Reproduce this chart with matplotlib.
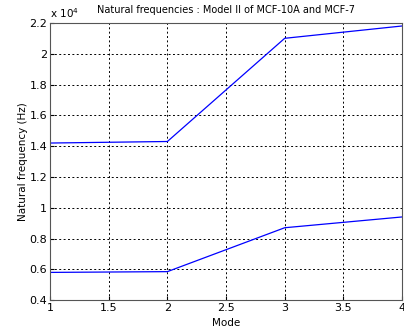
import numpy as np
import matplotlib
matplotlib.use("Agg")
import matplotlib.pyplot as plt

# mode numbers and natural frequencies (Hz)
modes = [1, 2, 3, 4]
freq_upper = [14200, 14300, 21000, 21800]
freq_lower = [5800, 5850, 8700, 9400]

fig = plt.figure(figsize=(4.04, 3.32), dpi=100)
ax = fig.add_axes([0.124, 0.096, 0.871, 0.835])

scale = 1e4
ax.plot(modes, np.array(freq_upper) / scale, color='#0000ff', lw=0.9)
ax.plot(modes, np.array(freq_lower) / scale, color='#0000ff', lw=0.9)

ax.set_xlim(1, 4)
ax.set_ylim(0.4, 2.2)
ax.set_xticks(np.arange(1, 4.01, 0.5))
ax.set_xticklabels(['1', '1.5', '2', '2.5', '3', '3.5', '4'])
ax.set_yticks(np.arange(0.4, 2.21, 0.2))
ax.set_yticklabels(['0.4', '0.6', '0.8', '1', '1.2', '1.4', '1.6', '1.8', '2', '2.2'])
ax.grid(True, color='black', linestyle=(0, (2, 2.5)), linewidth=0.7)
ax.tick_params(labelsize=8, direction='in', length=3, pad=2)
for s in ax.spines.values():
    s.set_color('#555555')

ax.set_xlabel('Mode', fontsize=7.5, labelpad=4)
ax.set_ylabel('Natural frequency (Hz)', fontsize=7.5, labelpad=1)
ax.set_title('Natural frequencies : Model II of MCF-10A and MCF-7', fontsize=7, pad=7)
ax.text(0.0, 1.01, r'x 10$^4$', transform=ax.transAxes, fontsize=7.5, va='bottom', ha='left')

fig.savefig('out.png', dpi=100)
